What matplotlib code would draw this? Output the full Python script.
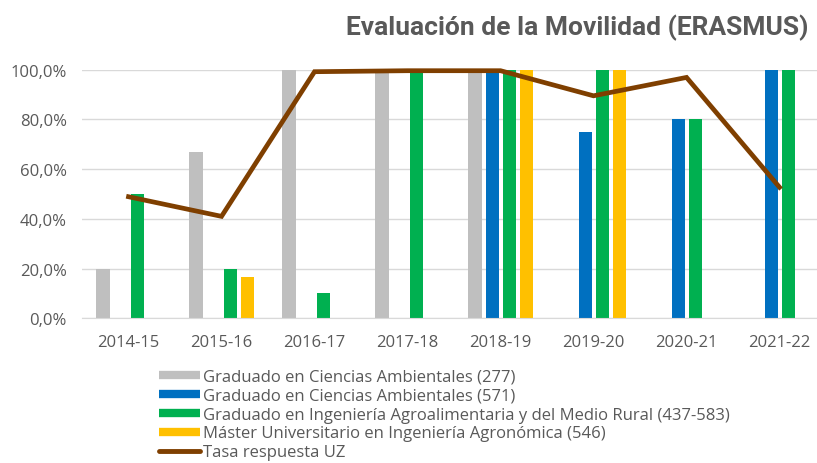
import matplotlib.pyplot as plt
import matplotlib.ticker as mticker
from matplotlib.lines import Line2D
import numpy as np

years = ["2014-15", "2015-16", "2016-17", "2017-18", "2018-19", "2019-20", "2020-21", "2021-22"]

ca_277 = [0.20, 0.667, 1.0, 1.0, 1.0, 0, 0, 0]
ca_571 = [0, 0, 0, 0, 1.0, 0.75, 0.80, 1.0]
agro = [0.50, 0.20, 0.10, 1.0, 1.0, 1.0, 0.80, 1.0]
master = [0, 0.167, 0, 0, 1.0, 1.0, 0, 0]
tasa_uz = [0.489, 0.41, 0.992, 0.996, 0.996, 0.895, 0.969, 0.527]

labels = [
    "Graduado en Ciencias Ambientales (277)",
    "Graduado en Ciencias Ambientales (571)",
    "Graduado en Ingeniería Agroalimentaria y del Medio Rural (437-583)",
    "Máster Universitario en Ingeniería Agronómica (546)",
    "Tasa respuesta UZ",
]
colors = ["#BFBFBF", "#0070C0", "#00B050", "#FFC000"]
line_color = "#7F3F00"
text_color = "#595959"

plt.rcParams['font.family'] = ['Open Sans', 'DejaVu Sans']

fig = plt.figure(figsize=(8.17, 4.64), dpi=100)
ax = fig.add_axes([0.1004, 0.3119, 0.8996, 0.5357])

x = np.arange(len(years))
step = 0.183
width = 0.14
series = [ca_277, ca_571, agro, master]
for i, vals in enumerate(series):
    ax.bar(x + (i - 1.5) * step, vals, width=width, color=colors[i], zorder=2)

ax.plot(x, tasa_uz, color=line_color, linewidth=3.4, solid_joinstyle='miter',
        zorder=3, clip_on=False)

ax.set_xlim(-0.5, 7.403)
ax.set_ylim(0, 1.0)
ax.set_xticks(x)
ax.set_xticklabels(years)
ax.set_yticks(np.arange(0, 1.01, 0.2))
ax.yaxis.set_major_formatter(mticker.FuncFormatter(lambda v, p: f"{v*100:.1f}%".replace('.', ',')))
ax.tick_params(length=0, labelsize=12, labelcolor=text_color)
ax.tick_params(axis='x', pad=11)
ax.tick_params(axis='y', pad=11)
ax.grid(axis='y', color='#D9D9D9', linewidth=1, zorder=0)
ax.set_axisbelow(True)
for s in ['top', 'right', 'left']:
    ax.spines[s].set_visible(False)
ax.spines['bottom'].set_color('#D9D9D9')

fig.text(0.989, 1 - 28 / 464, "Evaluación de la Movilidad (ERASMUS)",
         ha='right', va='center', fontsize=19, fontweight='bold', color=text_color,
         family=['Roboto', 'DejaVu Sans'])

handles = [Line2D([0], [0], color=c, linewidth=6, solid_capstyle='butt') for c in colors]
handles.append(Line2D([0], [0], color=line_color, linewidth=3.5, solid_capstyle='round'))
leg = fig.legend(handles, labels, loc='upper left', bbox_to_anchor=(0.195, 1 - 370 / 464),
                 frameon=False, fontsize=12, handlelength=2.45, handletextpad=0.18,
                 labelspacing=0.17, borderaxespad=0, borderpad=0)
for t in leg.get_texts():
    t.set_color(text_color)

fig.savefig("out.png", dpi=100)
